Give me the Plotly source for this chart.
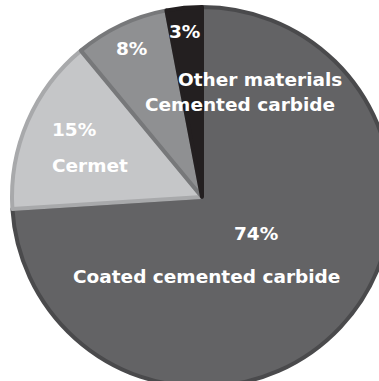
import plotly.graph_objects as go

# Market share of cutting tool materials
materials = ["Coated cemented carbide", "Cermet", "Cemented carbide", "Other materials"]
shares = [74, 15, 8, 3]
fill_colors = ["#636365", "#c5c6c8", "#8f9092", "#231f20"]
edge_colors = ["#4a4a4c", "#a8a9ab", "#77787a", "#231f20"]

W, H = 400, 400

fig = go.Figure(
    go.Pie(
        labels=materials,
        values=shares,
        sort=False,
        direction="clockwise",
        rotation=0,
        textinfo="none",
        hoverinfo="label+percent",
        marker=dict(colors=fill_colors, line=dict(color=edge_colors, width=4)),
        domain=dict(x=[12 / W, 392 / W], y=[(H - 387) / H, (H - 7) / H]),
        showlegend=False,
    )
)


def px(x, y):
    return x / W, 1 - y / H


label_pos = {
    "Coated cemented carbide": [(256, 233), (206, 276)],
    "Cermet": [(74, 130), (90, 165)],
    "Cemented carbide": [(131, 48), (240, 105)],
    "Other materials": [(184, 31), (260, 80)],
}

font = dict(family="DejaVu Sans", size=18.5, color="white")
for name, share in zip(materials, shares):
    (x1, y1), (x2, y2) = label_pos[name]
    ax, ay = px(x1, y1)
    fig.add_annotation(x=ax, y=ay, xref="paper", yref="paper", text=f"<b>{share}%</b>",
                       showarrow=False, font=font, xanchor="center", yanchor="middle")
    bx, by = px(x2, y2)
    fig.add_annotation(x=bx, y=by, xref="paper", yref="paper", text=f"<b>{name}</b>",
                       showarrow=False, font=font, xanchor="center", yanchor="middle")

fig.update_layout(
    width=W,
    height=H,
    margin=dict(l=0, r=0, t=0, b=0),
    paper_bgcolor="white",
    plot_bgcolor="white",
)

fig.write_html(
    "out.html",
    post_script="document.body.style.margin='0';document.body.style.overflow='hidden';",
)
